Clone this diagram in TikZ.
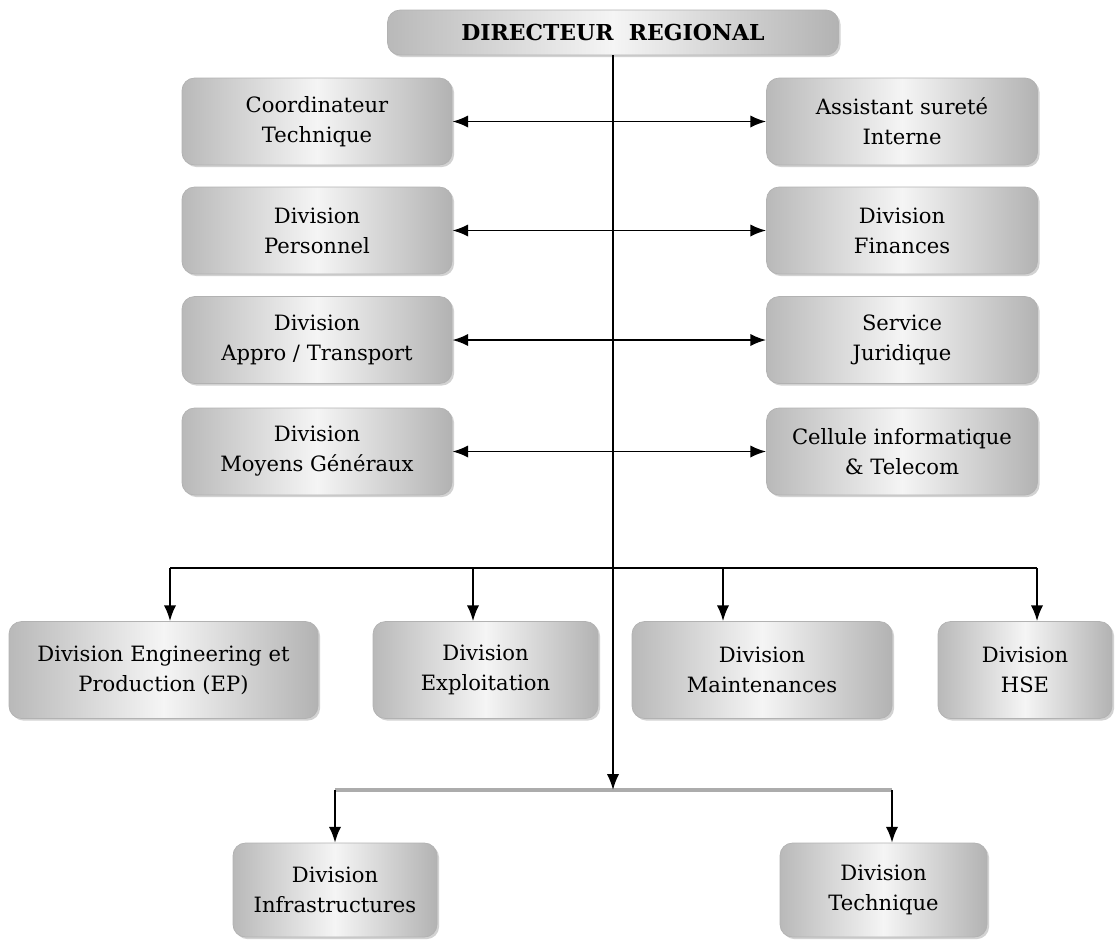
\documentclass[tikz,border=0pt]{standalone}
\usepackage{fontspec}
\setmainfont{DejaVu Serif}
\usetikzlibrary{arrows.meta,shadows}
\tikzset{
  unit/.style={draw=gray!60, rounded corners=.25cm, align=center,
    left color=gray!55, right color=gray!60, middle color=gray!8,
    drop shadow={shadow xshift=1.2pt, shadow yshift=-1.2pt, fill=gray!70, opacity=.5},
    font=\fontsize{12}{17}\selectfont, inner sep=2pt},
  link/.style={line width=1.1pt},
  arr/.style={link, -{Latex[length=9pt,width=7pt]}},
  dbl/.style={link, {Latex[length=9pt,width=7pt]}-{Latex[length=9pt,width=7pt]}},
}
\begin{document}
\begin{tikzpicture}
\useasboundingbox (0,0) rectangle (22.32,-18.78);
%
\node[unit, minimum width=9.02cm, minimum height=.9cm, font=\bfseries\fontsize{12.5}{14}\selectfont]
  (dr) at (12.26,-.65) {DIRECTEUR~~REGIONAL};
%
\node[unit, minimum width=5.4cm, minimum height=1.74cm] (ct) at (6.34,-2.43) {Coordinateur\\Technique};
\node[unit, minimum width=5.4cm, minimum height=1.74cm] (dp) at (6.34,-4.61) {Division\\Personnel};
\node[unit, minimum width=5.4cm, minimum height=1.74cm] (da) at (6.34,-6.80) {Division\\Appro / Transport};
\node[unit, minimum width=5.4cm, minimum height=1.74cm] (dm) at (6.34,-9.03) {Division\\Moyens Généraux};
%
\node[unit, minimum width=5.42cm, minimum height=1.74cm] (as) at (18.04,-2.43) {Assistant sureté\\Interne};
\node[unit, minimum width=5.42cm, minimum height=1.74cm] (df) at (18.04,-4.61) {Division\\Finances};
\node[unit, minimum width=5.42cm, minimum height=1.74cm] (sj) at (18.04,-6.80) {Service\\Juridique};
\node[unit, minimum width=5.42cm, minimum height=1.74cm] (ci) at (18.04,-9.03) {Cellule informatique\\\& Telecom};
%
\node[unit, minimum width=6.18cm, minimum height=1.94cm] (ep) at (3.27,-13.4) {Division Engineering et\\Production (EP)};
\node[unit, minimum width=4.5cm, minimum height=1.94cm] (ex) at (9.71,-13.4) {Division\\Exploitation};
\node[unit, minimum width=5.2cm, minimum height=1.94cm] (mt) at (15.24,-13.4) {Division\\Maintenances};
\node[unit, minimum width=3.48cm, minimum height=1.94cm] (hs) at (20.5,-13.4) {Division\\HSE};
%
\node[unit, minimum width=4.08cm, minimum height=1.88cm] (in) at (6.70,-17.8) {Division\\Infrastructures};
\node[unit, minimum width=4.14cm, minimum height=1.88cm] (te) at (17.67,-17.8) {Division\\Technique};
%
\coordinate (d1) at (3.40,-11.36);
\coordinate (d2) at (9.46,-11.36);
\coordinate (d3) at (14.46,-11.36);
\coordinate (d4) at (20.74,-11.36);
\coordinate (bus) at (12.26,-15.8);
\coordinate (e1) at (6.70,-15.8);
\coordinate (e2) at (17.84,-15.8);
%
\draw[dbl] (ct.east) -- (as.west);
\draw[dbl] (dp.east) -- (df.west);
\draw[dbl] (da.east) -- (sj.west);
\draw[dbl] (dm.east) -- (ci.west);
%
\draw[link] (d1) -- (d4);
\draw[arr] (d1) -- (d1 |- ep.north);
\draw[arr] (d2) -- (d2 |- ex.north);
\draw[arr] (d3) -- (d3 |- mt.north);
\draw[arr] (d4) -- (d4 |- hs.north);
%
\draw[gray!65, line width=2pt] (e1) -- (e2);
\draw[arr] (dr.south) -- (bus);
\draw[arr] (e1) -- (in.north);
\draw[arr] (e2) -- (e2 |- te.north);
\end{tikzpicture}
\end{document}
